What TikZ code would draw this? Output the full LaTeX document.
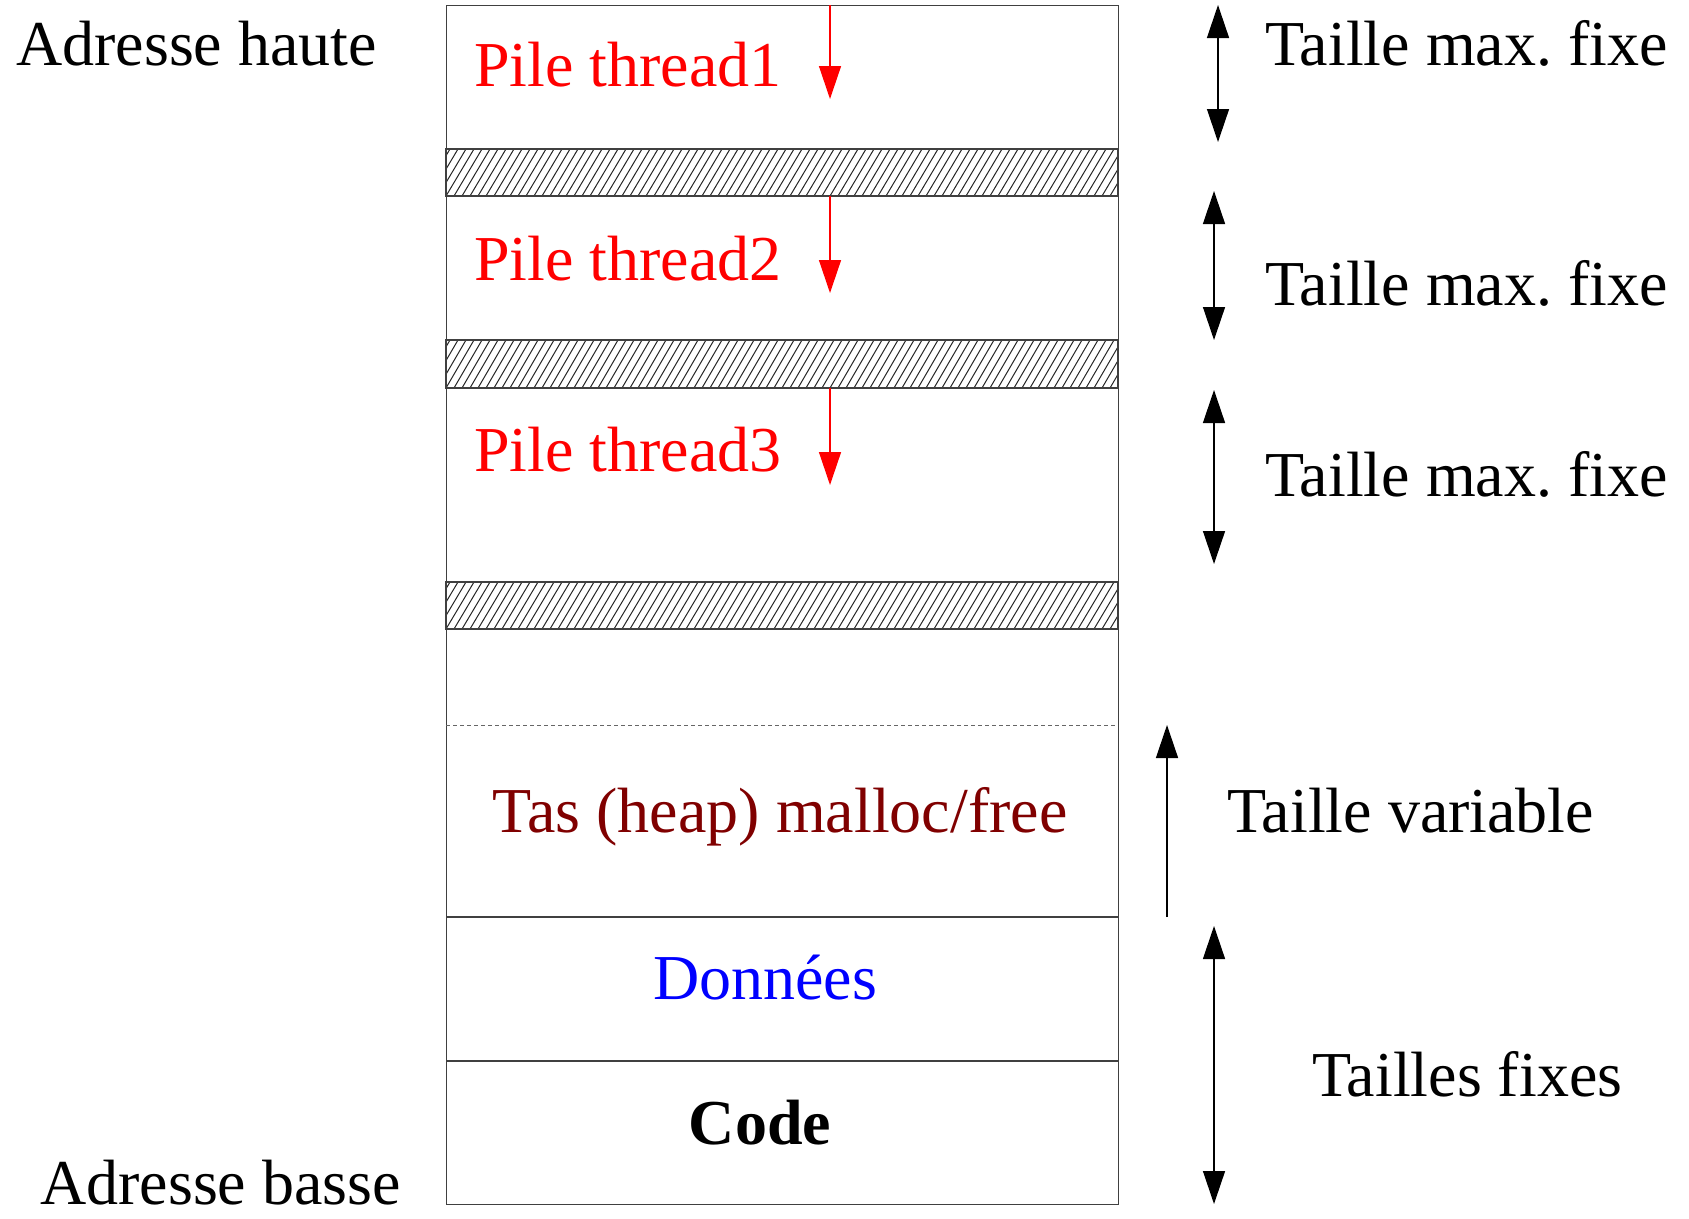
\documentclass[tikz,border=0pt]{standalone}
\usepackage{fontspec}
\setmainfont{Liberation Serif}
\usetikzlibrary{arrows.meta}
\definecolor{heapred}{RGB}{128,0,0}
\frenchspacing
\tikzset{
  lbl/.style={anchor=base west, inner sep=0pt, font=\fontsize{64}{70}\selectfont},
  ctr/.style={anchor=base, inner sep=0pt, font=\fontsize{64}{70}\selectfont},
  boxline/.style={draw=black!75, line width=1.4pt},
  hatchline/.style={draw=black!85, line width=1pt},
  tip/.style={-{Triangle[length=33pt,width=22pt]}},
  dtip/.style={{Triangle[length=33pt,width=22pt]}-{Triangle[length=33pt,width=22pt]}},
  redarrow/.style={tip, draw=red, line width=1.4pt},
  blackarrow/.style={draw=black, line width=1.4pt},
}
\begin{document}
\frenchspacing
\begin{tikzpicture}[x=1pt,y=-1pt]
\useasboundingbox (0,0) rectangle (1689,1218);
% hatched bands
\foreach \ya/\yb/\n in {149/196/h1, 340/388/h2, 582/629/h3}{
  \begin{scope}
    \clip (446,\ya) rectangle (1118,\yb);
    \foreach \i in {-6,...,86}{
      \draw[hatchline] ({446+8*\i},\yb) -- ({446+8*\i+28},\ya);
    }
  \end{scope}
  \draw[boxline] (446,\ya) rectangle (1118,\yb);
}
% memory column
\node[boxline, minimum width=672pt, minimum height=1199pt, anchor=north west, inner sep=0pt] (mem) at (446,5) {};
\draw[draw=black!60, line width=1pt, dash pattern=on 4pt off 3pt] (446,725) -- (1118,725);
\draw[boxline] (446,917) -- (1118,917);
\draw[boxline] (446,1061) -- (1118,1061);
% labels inside
\node[lbl, text=red] (t1) at (474,86) {Pile thread1};
\node[lbl, text=red] (t2) at (474,280) {Pile thread2};
\node[lbl, text=red] (t3) at (474,471) {Pile thread3};
\node[ctr, text=heapred] (heap) at (780,832) {Tas (heap) malloc/free};
\node[ctr, text=blue] (data) at (765,999) {Données};
\node[ctr] (code) at (760,1144) {\bfseries Code};
% red stack arrows
\coordinate (r1a) at (830,5);   \coordinate (r1b) at (830,99);
\coordinate (r2a) at (830,196); \coordinate (r2b) at (830,293);
\coordinate (r3a) at (830,388); \coordinate (r3b) at (830,485);
\draw[redarrow] (r1a) -- (r1b);
\draw[redarrow] (r2a) -- (r2b);
\draw[redarrow] (r3a) -- (r3b);
% right side arrows
\coordinate (a1a) at (1218,5);   \coordinate (a1b) at (1218,142);
\coordinate (a2a) at (1214,191); \coordinate (a2b) at (1214,340);
\coordinate (a3a) at (1214,390); \coordinate (a3b) at (1214,564);
\coordinate (hva) at (1167,917); \coordinate (hvb) at (1167,725);
\coordinate (fxa) at (1214,926); \coordinate (fxb) at (1214,1204);
\draw[blackarrow, dtip] (a1a) -- (a1b);
\draw[blackarrow, dtip] (a2a) -- (a2b);
\draw[blackarrow, dtip] (a3a) -- (a3b);
\draw[blackarrow, tip] (hva) -- (hvb);
\draw[blackarrow, dtip] (fxa) -- (fxb);
% right labels
\node[lbl] (s1) at (1265,65) {Taille max. fixe};
\node[lbl] (s2) at (1265,305) {Taille max. fixe};
\node[lbl] (s3) at (1265,496) {Taille max. fixe};
\node[lbl] (sv) at (1227,832) {Taille variable};
\node[lbl] (sf) at (1312,1096) {Tailles fixes};
% left labels
\node[lbl] (ah) at (16,65) {Adresse haute};
\node[lbl] (ab) at (40,1204) {Adresse basse};
\end{tikzpicture}
\end{document}
